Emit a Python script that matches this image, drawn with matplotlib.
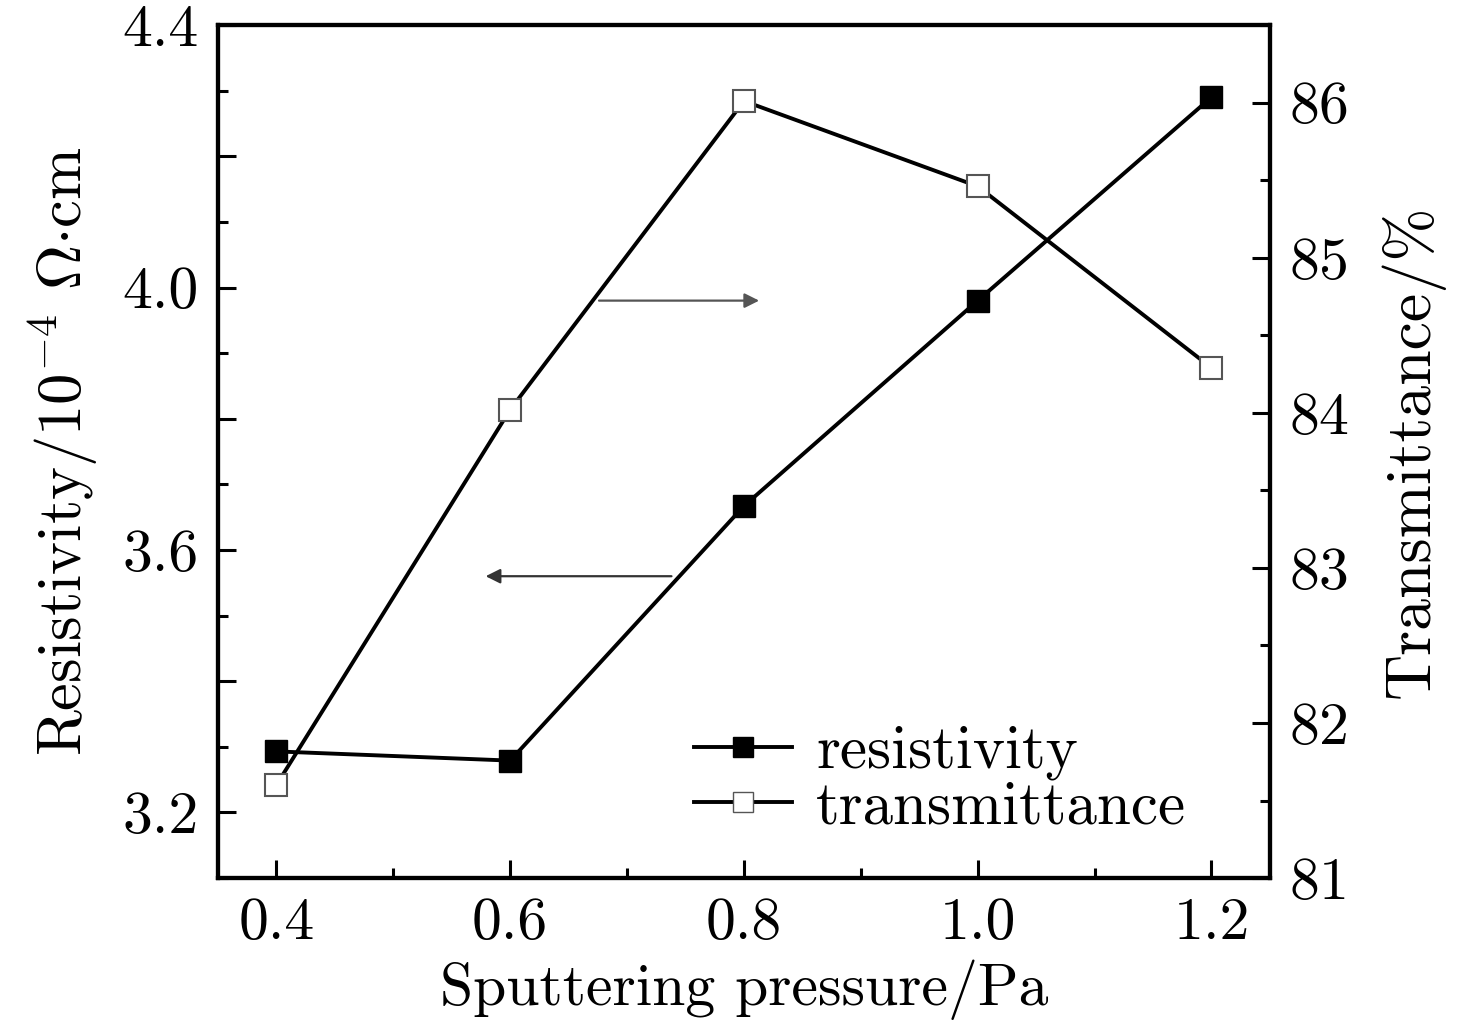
import numpy as np
import matplotlib
matplotlib.use("Agg")
import matplotlib.pyplot as plt
from matplotlib.ticker import MultipleLocator, FuncFormatter
from matplotlib.lines import Line2D

# pressure series and the two measured quantities
pressure = [0.4, 0.6, 0.8, 1.0, 1.2]
resistivity = [3.293, 3.279, 3.667, 3.98, 4.29]
transmittance = [81.6, 84.02, 86.01, 85.46, 84.29]

left_ticks = [3.2, 3.6, 4.0, 4.4]
right_ticks = [81, 82, 83, 84, 85, 86]
x_ticks = [0.4, 0.6, 0.8, 1.0, 1.2]

plt.rcParams["font.family"] = "cmr10"
plt.rcParams["mathtext.fontset"] = "cm"
plt.rcParams["axes.formatter.use_mathtext"] = True

fig = plt.figure(figsize=(14.58, 10.26), dpi=100)
ax = fig.add_axes([0.1495, 0.1442, 0.7215, 0.8314])
ax2 = ax.twinx()

# resistivity axis in front so its filled markers cover the open ones
ax.set_zorder(ax2.get_zorder() + 1)
ax.patch.set_visible(False)

lw = 2.8
ax.plot(pressure, resistivity, color="black", lw=lw, marker="s", ms=16,
        mfc="black", mec="black", zorder=3)
ax2.plot(pressure, transmittance, color="black", lw=lw, marker="s", ms=16,
         mfc="white", mec="#555555", mew=1.5, zorder=3)

ax.set_xlim(0.35, 1.25)
ax.set_ylim(3.1, 4.4)
ax2.set_ylim(81, 86.5)

ax.xaxis.set_major_locator(MultipleLocator(0.2))
ax.xaxis.set_minor_locator(MultipleLocator(0.1))
ax.set_xticks(x_ticks)
ax.set_xticklabels([f"{v:.1f}" for v in x_ticks])

ax.yaxis.set_major_locator(MultipleLocator(0.2))
ax.yaxis.set_minor_locator(MultipleLocator(0.1))
ax.yaxis.set_major_formatter(FuncFormatter(
    lambda v, p: f"{v:.1f}" if any(abs(v - t) < 1e-6 for t in left_ticks) else ""))

ax2.set_yticks(right_ticks)
ax2.yaxis.set_minor_locator(MultipleLocator(0.5))

fs = 43
for a in (ax, ax2):
    a.tick_params(which="major", direction="in", length=13, width=2.2,
                  labelsize=fs, pad=14)
    a.tick_params(which="minor", direction="in", length=7, width=2.2)
    for s in a.spines.values():
        s.set_linewidth(3)
ax.tick_params(top=False, right=False, which="both")
ax2.tick_params(left=False, which="both")

ax.set_xlabel("Sputtering pressure/Pa", fontsize=43, labelpad=6)
ax.set_ylabel(r"Resistivity/10$^{-4}$ $\Omega$$\cdot$cm", fontsize=45, labelpad=16)
ax2.set_ylabel("Transmittance/%", fontsize=46, labelpad=22)

# arrows pointing to each series' axis
ax.annotate("", xy=(0.813, 3.98), xytext=(0.676, 3.98),
            arrowprops=dict(arrowstyle="-|>", color="#555555", lw=1.6,
                            mutation_scale=22, shrinkA=0, shrinkB=0))
ax.annotate("", xy=(0.579, 3.56), xytext=(0.738, 3.56),
            arrowprops=dict(arrowstyle="-|>", color="#333333", lw=1.6,
                            mutation_scale=22, shrinkA=0, shrinkB=0))

handles = [
    Line2D([], [], color="black", lw=lw, marker="s", ms=14, mfc="black", mec="black"),
    Line2D([], [], color="black", lw=lw, marker="s", ms=14, mfc="white", mec="#555555"),
]
ax.legend(handles, ["resistivity", "transmittance"], loc="lower left",
          bbox_to_anchor=(0.40, -0.015), frameon=False, fontsize=44,
          handlelength=1.6, handletextpad=0.4, labelspacing=0.0)

fig.savefig("out.png", dpi=100)
